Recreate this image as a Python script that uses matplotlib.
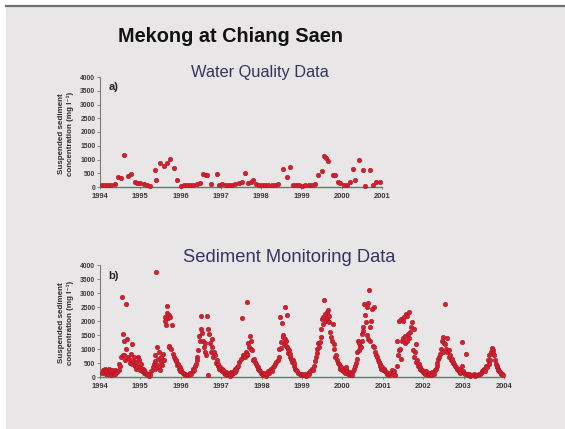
import matplotlib
matplotlib.use("Agg")
import matplotlib.pyplot as plt
from matplotlib.patches import Rectangle
from matplotlib.lines import Line2D

plt.rcParams['font.family'] = ['Liberation Sans', 'DejaVu Sans']

# ---------------- data ----------------
title = "Mekong at Chiang Saen"
subtitle_a = "Water Quality Data"
subtitle_b = "Sediment Monitoring Data"
ylabel = "Suspended sediment\nconcentration (mg l\u207b\u00b9)"
ticks_a = [1994, 1995, 1996, 1997, 1998, 1999, 2000, 2001]
ticks_b = [1994, 1995, 1996, 1997, 1998, 1999, 2000, 2001, 2002, 2003, 2004]
yticks = [0, 500, 1000, 1500, 2000, 2500, 3000, 3500, 4000]

# a) Water quality data: decimal year, SSC (mg/l)
wq_year = [1994.04, 1994.12, 1994.20, 1994.28, 1994.36, 1994.45, 1994.52, 1994.60, 1994.70, 1994.78, 1994.86, 1994.93,
           1995.00, 1995.08, 1995.16, 1995.24, 1995.36, 1995.40, 1995.50, 1995.60, 1995.66, 1995.74, 1995.84, 1995.90,
           1996.00, 1996.08, 1996.16, 1996.24, 1996.32, 1996.40, 1996.48, 1996.56, 1996.62, 1996.66, 1996.76, 1996.90, 1996.95,
           1997.04, 1997.12, 1997.20, 1997.28, 1997.36, 1997.44, 1997.52, 1997.61, 1997.68, 1997.74, 1997.79, 1997.86, 1997.94,
           1998.02, 1998.10, 1998.18, 1998.26, 1998.34, 1998.42, 1998.55, 1998.63, 1998.71, 1998.78, 1998.86, 1998.94,
           1999.02, 1999.10, 1999.18, 1999.26, 1999.34, 1999.42, 1999.50, 1999.57, 1999.62, 1999.67, 1999.79, 1999.83, 1999.90, 1999.96,
           2000.05, 2000.12, 2000.20, 2000.28, 2000.34, 2000.42, 2000.54, 2000.58, 2000.70, 2000.78, 2000.86, 2000.94]
wq_ssc = [80, 60, 90, 70, 100, 350, 340, 1170, 390, 480, 180, 150,
          130, 100, 60, 40, 630, 270, 890, 750, 870, 1020, 690, 250,
          50, 80, 60, 90, 70, 120, 150, 470, 430, 440, 100, 470, 80,
          100, 80, 60, 90, 100, 150, 200, 500, 130, 180, 240, 100, 80,
          60, 70, 80, 60, 90, 100, 650, 380, 740, 90, 80, 60,
          50, 70, 60, 80, 120, 420, 570, 1130, 1070, 950, 440, 430, 200, 150,
          80, 60, 180, 650, 240, 1000, 630, 30, 630, 80, 200, 180]

# b) Sediment monitoring data: per-year fractional dates and SSC (mg/l)
sm_1994_f = [0.04, 0.07, 0.10, 0.12, 0.14, 0.16, 0.18, 0.20, 0.22, 0.24, 0.26, 0.28, 0.30, 0.32, 0.34, 0.36, 0.38, 0.40, 0.43, 0.46, 0.48, 0.50, 0.52, 0.54, 0.56, 0.58, 0.59, 0.60, 0.62, 0.64, 0.65, 0.67, 0.69, 0.72, 0.74, 0.76, 0.78, 0.80, 0.82, 0.84, 0.86, 0.88, 0.90, 0.92, 0.94, 0.96, 0.98]
sm_1994_v = [150, 250, 180, 300, 100, 260, 200, 120, 280, 210, 150, 60, 240, 180, 100, 120, 260, 200, 180, 260, 470, 380, 710, 2840, 1540, 800, 1300, 770, 600, 2600, 1000, 1360, 720, 650, 500, 820, 450, 1180, 560, 710, 380, 530, 300, 400, 720, 590, 260]
sm_1995_f = [0.00, 0.02, 0.04, 0.06, 0.08, 0.10, 0.12, 0.14, 0.16, 0.18, 0.20, 0.22, 0.24, 0.27, 0.30, 0.33, 0.35, 0.37, 0.37, 0.39, 0.40, 0.42, 0.44, 0.45, 0.47, 0.48, 0.50, 0.52, 0.54, 0.56, 0.58, 0.60, 0.62, 0.63, 0.65, 0.67, 0.68, 0.70, 0.71, 0.72, 0.74, 0.76, 0.78, 0.80, 0.82, 0.85, 0.87, 0.89, 0.91, 0.93, 0.95, 0.97, 0.99]
sm_1995_v = [350, 470, 200, 300, 240, 150, 180, 90, 120, 60, 100, 40, 60, 200, 350, 470, 560, 770, 300, 3760, 420, 1060, 650, 355, 890, 250, 530, 720, 430, 820, 600, 2010, 2130, 1860, 2300, 2540, 2100, 1100, 2220, 1060, 2130, 1000, 1870, 830, 720, 650, 560, 590, 430, 470, 300, 355, 200]
sm_1996_f = [0.01, 0.03, 0.05, 0.08, 0.10, 0.12, 0.15, 0.18, 0.20, 0.23, 0.26, 0.29, 0.31, 0.33, 0.35, 0.37, 0.39, 0.41, 0.43, 0.45, 0.47, 0.49, 0.51, 0.53, 0.55, 0.57, 0.59, 0.61, 0.63, 0.65, 0.67, 0.68, 0.70, 0.72, 0.74, 0.76, 0.78, 0.80, 0.81, 0.83, 0.85, 0.87, 0.89, 0.91, 0.93, 0.95, 0.97, 0.99]
sm_1996_v = [240, 180, 150, 120, 90, 60, 80, 60, 100, 150, 120, 200, 300, 240, 400, 470, 600, 710, 950, 1480, 1300, 1720, 2190, 1560, 1300, 1060, 900, 1200, 780, 2190, 60, 1720, 1540, 1200, 900, 1360, 1060, 700, 830, 900, 770, 500, 590, 400, 470, 300, 355, 250]
sm_1997_f = [0.01, 0.03, 0.05, 0.07, 0.09, 0.11, 0.13, 0.15, 0.17, 0.19, 0.21, 0.23, 0.25, 0.27, 0.29, 0.31, 0.33, 0.35, 0.37, 0.39, 0.42, 0.45, 0.48, 0.51, 0.53, 0.55, 0.57, 0.59, 0.61, 0.63, 0.64, 0.65, 0.67, 0.69, 0.71, 0.73, 0.75, 0.77, 0.79, 0.81, 0.83, 0.86, 0.88, 0.90, 0.92, 0.94, 0.96, 0.98]
sm_1997_v = [300, 200, 250, 150, 100, 180, 120, 60, 150, 90, 40, 100, 180, 120, 150, 220, 180, 300, 240, 350, 410, 550, 650, 2100, 710, 800, 770, 700, 900, 800, 2690, 830, 1200, 1060, 1480, 1300, 1000, 950, 600, 650, 550, 470, 400, 355, 300, 240, 200, 150]
sm_1998_f = [0.00, 0.03, 0.05, 0.08, 0.10, 0.13, 0.15, 0.18, 0.20, 0.23, 0.26, 0.28, 0.31, 0.34, 0.36, 0.40, 0.42, 0.44, 0.46, 0.47, 0.49, 0.50, 0.52, 0.54, 0.55, 0.57, 0.58, 0.60, 0.61, 0.62, 0.63, 0.65, 0.66, 0.68, 0.70, 0.71, 0.73, 0.75, 0.77, 0.79, 0.81, 0.83, 0.86, 0.88, 0.91, 0.94, 0.97]
sm_1998_v = [120, 60, 150, 100, 40, 120, 200, 150, 250, 300, 200, 350, 410, 460, 530, 620, 710, 1000, 2130, 1240, 1050, 1920, 1500, 1420, 1180, 1350, 2490, 1300, 1100, 1060, 2220, 1000, 850, 950, 700, 830, 650, 530, 600, 410, 500, 300, 250, 200, 150, 100, 60]
sm_1999_f = [0.00, 0.03, 0.06, 0.09, 0.12, 0.15, 0.18, 0.21, 0.24, 0.27, 0.30, 0.32, 0.34, 0.36, 0.38, 0.40, 0.42, 0.44, 0.46, 0.48, 0.49, 0.51, 0.52, 0.55, 0.57, 0.59, 0.61, 0.62, 0.64, 0.65, 0.67, 0.68, 0.70, 0.72, 0.74, 0.76, 0.78, 0.80, 0.82, 0.84, 0.87, 0.89, 0.91, 0.93, 0.95, 0.97, 0.99]
sm_1999_v = [120, 60, 100, 40, 80, 150, 120, 200, 300, 250, 410, 560, 710, 850, 1000, 1200, 1060, 1250, 1420, 1700, 2070, 1900, 2130, 2750, 2250, 2010, 2100, 2310, 2000, 2390, 2190, 1950, 1600, 1420, 1300, 1890, 1000, 1180, 710, 800, 590, 500, 450, 410, 300, 355, 250]
sm_2000_f = [0.02, 0.04, 0.06, 0.08, 0.10, 0.12, 0.14, 0.16, 0.18, 0.20, 0.22, 0.24, 0.26, 0.28, 0.30, 0.33, 0.35, 0.37, 0.39, 0.41, 0.42, 0.44, 0.46, 0.48, 0.49, 0.51, 0.52, 0.54, 0.56, 0.58, 0.60, 0.62, 0.64, 0.64, 0.66, 0.68, 0.69, 0.71, 0.73, 0.75, 0.77, 0.79, 0.81, 0.83, 0.85, 0.88, 0.90, 0.92, 0.94, 0.96, 0.98]
sm_2000_v = [200, 300, 150, 250, 355, 200, 120, 180, 60, 150, 100, 60, 200, 300, 400, 500, 650, 900, 1300, 1200, 950, 1100, 1060, 1300, 1540, 1650, 1780, 2600, 2200, 1950, 2490, 1500, 2660, 1360, 3100, 1800, 1300, 2010, 2430, 1100, 2490, 1060, 890, 800, 710, 600, 530, 450, 410, 300, 355]
sm_2001_f = [0.00, 0.03, 0.05, 0.08, 0.10, 0.13, 0.16, 0.19, 0.22, 0.25, 0.28, 0.31, 0.34, 0.36, 0.38, 0.40, 0.41, 0.43, 0.45, 0.46, 0.48, 0.49, 0.51, 0.53, 0.54, 0.56, 0.57, 0.59, 0.61, 0.62, 0.64, 0.66, 0.68, 0.70, 0.72, 0.74, 0.76, 0.78, 0.80, 0.82, 0.83, 0.85, 0.87, 0.89, 0.91, 0.93, 0.95, 0.97, 0.99]
sm_2001_v = [250, 300, 200, 180, 120, 100, 60, 150, 250, 100, 200, 60, 400, 1300, 800, 950, 2010, 1000, 2070, 650, 1300, 2010, 1400, 2130, 1480, 1200, 2250, 1300, 2190, 1540, 1400, 2310, 1600, 1780, 1950, 950, 1720, 710, 900, 1180, 530, 600, 410, 450, 355, 300, 250, 240, 180]
sm_2002_f = [0.02, 0.05, 0.08, 0.11, 0.14, 0.17, 0.20, 0.23, 0.26, 0.29, 0.31, 0.33, 0.35, 0.37, 0.39, 0.41, 0.44, 0.46, 0.48, 0.50, 0.52, 0.54, 0.55, 0.57, 0.58, 0.60, 0.63, 0.65, 0.67, 0.69, 0.71, 0.73, 0.75, 0.77, 0.79, 0.81, 0.83, 0.85, 0.88, 0.90, 0.92, 0.95, 0.96, 0.98]
sm_2002_v = [150, 100, 200, 60, 150, 100, 60, 180, 120, 250, 300, 410, 500, 650, 700, 830, 1000, 1300, 1420, 890, 1200, 2600, 1180, 1000, 1400, 900, 950, 700, 770, 590, 650, 500, 530, 450, 410, 350, 300, 250, 200, 300, 150, 1240, 410, 200]
sm_2003_f = [0.01, 0.03, 0.06, 0.08, 0.10, 0.13, 0.16, 0.19, 0.22, 0.25, 0.28, 0.31, 0.34, 0.37, 0.40, 0.43, 0.46, 0.49, 0.51, 0.53, 0.55, 0.57, 0.60, 0.62, 0.64, 0.66, 0.68, 0.70, 0.72, 0.74, 0.76, 0.78, 0.80, 0.82, 0.83, 0.85, 0.86, 0.88, 0.91, 0.93, 0.95, 0.97]
sm_2003_v = [150, 100, 830, 120, 60, 100, 40, 80, 60, 100, 40, 80, 60, 120, 100, 150, 200, 250, 300, 200, 410, 350, 590, 450, 770, 600, 890, 1040, 970, 850, 770, 600, 470, 400, 355, 300, 240, 200, 180, 120, 100, 60]

sm_years = [1994, 1995, 1996, 1997, 1998, 1999, 2000, 2001, 2002, 2003]
sm_fracs = [sm_1994_f, sm_1995_f, sm_1996_f, sm_1997_f, sm_1998_f, sm_1999_f, sm_2000_f, sm_2001_f, sm_2002_f, sm_2003_f]
sm_vals = [sm_1994_v, sm_1995_v, sm_1996_v, sm_1997_v, sm_1998_v, sm_1999_v, sm_2000_v, sm_2001_v, sm_2002_v, sm_2003_v]

sm_year = []
sm_ssc = []
for yr, fr, vv in zip(sm_years, sm_fracs, sm_vals):
    sm_year += [yr + f for f in fr]
    sm_ssc += vv

# ---------------- figure ----------------
W, H = 565, 429
bg = '#e8e6e6'
fig = plt.figure(figsize=(W / 100, H / 100), dpi=100, facecolor=bg)

# slide frame: white margin top/left, dark rule at top
fig.patches.append(Rectangle((0, 1 - 5 / H), 1, 5 / H, transform=fig.transFigure, facecolor='white', edgecolor='none', zorder=0))
fig.patches.append(Rectangle((0, 0), 6 / W, 1, transform=fig.transFigure, facecolor='white', edgecolor='none', zorder=0))
fig.lines.append(Line2D([6 / W, 1], [1 - 5.5 / H, 1 - 5.5 / H], transform=fig.transFigure, color='#6e6e6e', lw=1.6))


def px_axes(x0, x1, ytop, ybot):
    return fig.add_axes([x0 / W, 1 - ybot / H, (x1 - x0) / W, (ybot - ytop) / H])


def style(ax, xticks):
    ax.set_facecolor('none')
    for s in ['top', 'right']:
        ax.spines[s].set_visible(False)
    ax.spines['left'].set_color('#7c7c7c')
    ax.spines['left'].set_linewidth(0.8)
    ax.spines['bottom'].set_color('#5e7f6c')
    ax.spines['bottom'].set_linewidth(1.0)
    ax.set_ylim(0, 4000)
    ax.set_yticks(yticks)
    ax.set_yticklabels([str(v) for v in yticks], fontsize=4.9, fontweight='bold', color='#3a3a3a')
    ax.set_xticks(xticks)
    ax.set_xticklabels([str(v) for v in xticks], fontsize=5.4, fontweight='bold', color='#3a3a3a')
    ax.tick_params(axis='y', length=2.2, width=0.6, color='#7c7c7c', pad=1.2)
    ax.tick_params(axis='x', length=1.5, width=0.6, color='#5e7f6c', pad=2.5)


mk = dict(linestyle='none', marker='o', ms=3.3, mfc='#d51f2e', mec='#a81826', mew=0.35, clip_on=False, zorder=3)

# panel a
ax1 = px_axes(100, 382, 77, 187)
style(ax1, ticks_a)
ax1.set_xlim(1994, 2001)
ax1.plot(wq_year, wq_ssc, **mk)
ax1.text(0.03, 0.95, 'a)', transform=ax1.transAxes, fontsize=8, fontweight='bold', color='#222222', va='top')

# panel b
ax2 = px_axes(100, 504, 265, 377)
style(ax2, ticks_b)
ax2.set_xlim(1994, 2004)
ax2.plot(sm_year, sm_ssc, **mk)
ax2.text(0.02, 0.95, 'b)', transform=ax2.transAxes, fontsize=8, fontweight='bold', color='#222222', va='top')

# y labels
for yc in (134, 323):
    fig.text(66 / W, 1 - yc / H, ylabel, rotation=90, ha='center', va='center', fontsize=5.8,
             fontweight='bold', color='#2e2e2e', linespacing=1.15)

# titles
fig.text(231 / W, 1 - 37 / H, title, ha='center', va='center', fontsize=14.3, fontweight='bold', color='#111111')
fig.text(260 / W, 1 - 72 / H, subtitle_a, ha='center', va='center', fontsize=11.8, color='#35355e')
fig.text(289 / W, 1 - 258 / H, subtitle_b, ha='center', va='center', fontsize=13.2, color='#35355e')

fig.savefig('out.png', dpi=100, facecolor=bg)
